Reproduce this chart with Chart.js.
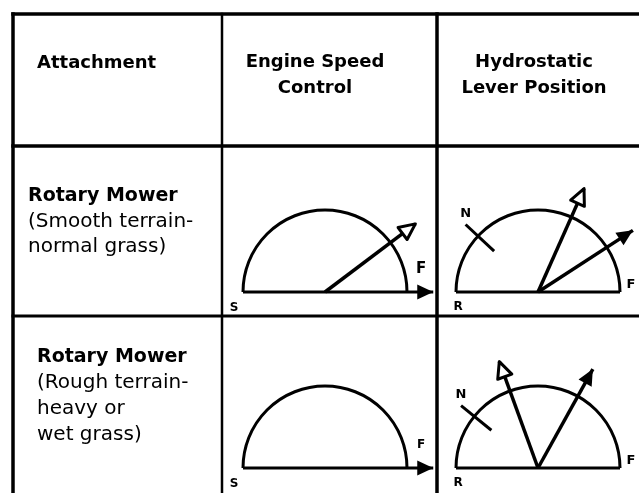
<!DOCTYPE html>
<html>
<head>
<meta charset="utf-8">
<title>Rotary mower control settings</title>
<script src="https://cdn.jsdelivr.net/npm/chart.js@4.4.1/dist/chart.umd.min.js"></script>
<style>
  html, body { margin: 0; padding: 0; background: #fff; }
  #wrap { width: 639px; height: 493px; }
</style>
</head>
<body>
<div id="wrap"><canvas id="chart"></canvas></div>
<script>
// Table content: column headings (one entry per column, split in lines) and attachment rows.
const columnHeads = [['Attachment'], ['Engine Speed', 'Control'], ['Hydrostatic', 'Lever Position']];
const attachmentRows = [
  ['Rotary Mower', '(Smooth terrain-', 'normal grass)'],
  ['Rotary Mower', '(Rough terrain-', 'heavy or', 'wet grass)'],
];

// Lever settings per row, in degrees on the half dial: 0 = F (right end), 180 = S / R (left end).
const throttleDeg = [37, null];   // hollow-head lever on the engine speed dial
const throttleFullDeg = [0, 0];   // filled arrow along the base line, at F
const hydroStartDeg = [66, 110];  // hollow-head lever on the hydrostatic dial
const hydroMaxDeg = [33, 61];     // filled-head lever on the hydrostatic dial
const neutralDeg = [137, 141];    // N tick on the hydrostatic dial
const speedDialLabels = ['S', 'F'];
const hydroDialLabels = ['R', 'N', 'F'];

// Layout (page units = css px, the scales run 0..W and 0..H).
const W = 639, H = 493;
const colX = [13, 222, 437, 660];
const rowY = [14, 146, 316, 520];
const dial = { r: 82, speedCx: 325, hydroCx: 538, baseY: [292, 468], lever: 1.38, baseArrow: 1.32 };
const rowText = { x: [28, 37], y0: [196, 357], gap: [25.5, 26] };
const INK = '#000';

function polar(cx, cy, deg, dist) {
  const a = deg * Math.PI / 180;
  return { x: cx + dist * Math.cos(a), y: cy - dist * Math.sin(a) };
}

function shaft(points, head, width) {
  return {
    data: points, showLine: true, pointRadius: 0, borderColor: INK,
    borderWidth: width || 3.5, head: head || null, fill: false, tension: 0,
  };
}

const datasets = [];
attachmentRows.forEach((_, i) => {
  const cy = dial.baseY[i], r = dial.r;
  const sc = dial.speedCx, hc = dial.hydroCx;
  // engine speed dial: base line running out to the F arrow
  datasets.push(shaft([{ x: sc - r, y: cy }, polar(sc, cy, throttleFullDeg[i], r * dial.baseArrow)], 'solid', 3));
  if (throttleDeg[i] !== null) {
    datasets.push(shaft([{ x: sc, y: cy }, polar(sc, cy, throttleDeg[i], r * dial.lever)], 'open'));
  }
  // hydrostatic dial
  datasets.push(shaft([{ x: hc - r, y: cy }, { x: hc + r, y: cy }], null, 3));
  datasets.push(shaft([{ x: hc, y: cy }, polar(hc, cy, hydroStartDeg[i], r * dial.lever)], 'open'));
  datasets.push(shaft([{ x: hc, y: cy }, polar(hc, cy, hydroMaxDeg[i], r * dial.lever)], 'solid'));
  datasets.push(shaft([polar(hc, cy, neutralDeg[i], r - 22), polar(hc, cy, neutralDeg[i], r + 17)], null, 3));
});

function drawHead(ctx, from, to, kind) {
  const a = Math.atan2(to.y - from.y, to.x - from.x);
  const len = 16, half = 7.5;
  ctx.save();
  ctx.translate(to.x, to.y);
  ctx.rotate(a);
  ctx.beginPath();
  ctx.moveTo(0, 0);
  ctx.lineTo(-len, -half);
  ctx.lineTo(-len, half);
  ctx.closePath();
  if (kind === 'solid') {
    ctx.fillStyle = INK;
    ctx.fill();
  } else {
    ctx.translate(-2, 0);
    ctx.fillStyle = '#fff';
    ctx.fill();
    ctx.lineWidth = 3;
    ctx.lineJoin = 'round';
    ctx.strokeStyle = INK;
    ctx.stroke();
  }
  ctx.restore();
}

const tablePlugin = {
  id: 'table',
  beforeDatasetsDraw(chart) {
    const { ctx, scales } = chart;
    const px = (v) => scales.x.getPixelForValue(v);
    const py = (v) => scales.y.getPixelForValue(v);
    const rad = px(dial.r) - px(0);
    ctx.save();
    ctx.strokeStyle = INK;
    ctx.lineWidth = 3;
    dial.baseY.forEach((cy) => {
      [dial.speedCx, dial.hydroCx].forEach((cx) => {
        ctx.beginPath();
        ctx.arc(px(cx), py(cy), rad, Math.PI, 2 * Math.PI);
        ctx.stroke();
      });
    });
    ctx.restore();
  },
  afterDatasetsDraw(chart) {
    const { ctx, scales } = chart;
    const px = (v) => scales.x.getPixelForValue(v);
    const py = (v) => scales.y.getPixelForValue(v);

    // arrow heads on the lever shafts
    chart.data.datasets.forEach((ds, di) => {
      if (!ds.head) return;
      const pts = chart.getDatasetMeta(di).data;
      drawHead(ctx, pts[0], pts[pts.length - 1], ds.head);
    });

    ctx.save();
    ctx.strokeStyle = INK;
    ctx.fillStyle = INK;
    ctx.lineCap = 'square';

    // table rules
    const hLine = (y, x0, x1, w) => { ctx.lineWidth = w; ctx.beginPath(); ctx.moveTo(px(x0), py(y)); ctx.lineTo(px(x1), py(y)); ctx.stroke(); };
    const vLine = (x, y0, y1, w) => { ctx.lineWidth = w; ctx.beginPath(); ctx.moveTo(px(x), py(y0)); ctx.lineTo(px(x), py(y1)); ctx.stroke(); };
    hLine(rowY[0], colX[0], colX[3], 3.5);
    hLine(rowY[1], colX[0], colX[3], 3.5);
    hLine(rowY[2], colX[0], colX[3], 3);
    vLine(colX[0], rowY[0], rowY[3], 3.5);
    vLine(colX[1], rowY[0], rowY[3], 2.5);
    vLine(colX[2], rowY[0], rowY[3], 3.5);

    // headings
    ctx.textBaseline = 'middle';
    ctx.font = 'bold 18px "DejaVu Sans"';
    ctx.textAlign = 'left';
    ctx.fillText(columnHeads[0][0], px(37), py(63));
    ctx.textAlign = 'center';
    columnHeads[1].forEach((t, k) => ctx.fillText(t, px(315), py(62 + k * 26)));
    columnHeads[2].forEach((t, k) => ctx.fillText(t, px(534), py(62 + k * 26)));

    // attachment descriptions
    ctx.textAlign = 'left';
    attachmentRows.forEach((lines, i) => {
      lines.forEach((t, k) => {
        ctx.font = k === 0 ? 'bold 19px "DejaVu Sans"' : '20px "DejaVu Sans"';
        ctx.fillText(t, px(rowText.x[i]), py(rowText.y0[i] + k * rowText.gap[i]));
      });
    });

    // dial letters
    dial.baseY.forEach((cy, i) => {
      const sc = dial.speedCx, hc = dial.hydroCx, r = dial.r;
      ctx.textAlign = 'center';
      ctx.font = 'bold 12px "DejaVu Sans"';
      ctx.fillText(speedDialLabels[0], px(sc - r - 9), py(cy + 16));
      ctx.fillText(hydroDialLabels[0], px(hc - r + 2), py(cy + 15));
      ctx.font = (i === 0 ? 'bold 15px' : 'bold 12px') + ' "DejaVu Sans"';
      ctx.fillText(speedDialLabels[1], px(sc + r + 14), py(cy - 23));
      ctx.font = 'bold 13px "DejaVu Sans"';
      const n = polar(hc, cy, neutralDeg[i], r + 17);
      ctx.fillText(hydroDialLabels[1], px(n.x), py(n.y - 11));
      ctx.fillText(hydroDialLabels[2], px(hc + r + 11), py(cy - 7));
    });
    ctx.restore();
  },
};

new Chart(document.getElementById('chart'), {
  type: 'scatter',
  data: { datasets },
  options: {
    responsive: true,
    maintainAspectRatio: false,
    animation: false,
    devicePixelRatio: 1,
    events: [],
    layout: { padding: 0 },
    plugins: { legend: { display: false }, tooltip: { enabled: false } },
    scales: {
      x: { type: 'linear', min: 0, max: W, display: false },
      y: { type: 'linear', min: 0, max: H, reverse: true, display: false },
    },
  },
  plugins: [tablePlugin],
});
</script>
</body>
</html>
